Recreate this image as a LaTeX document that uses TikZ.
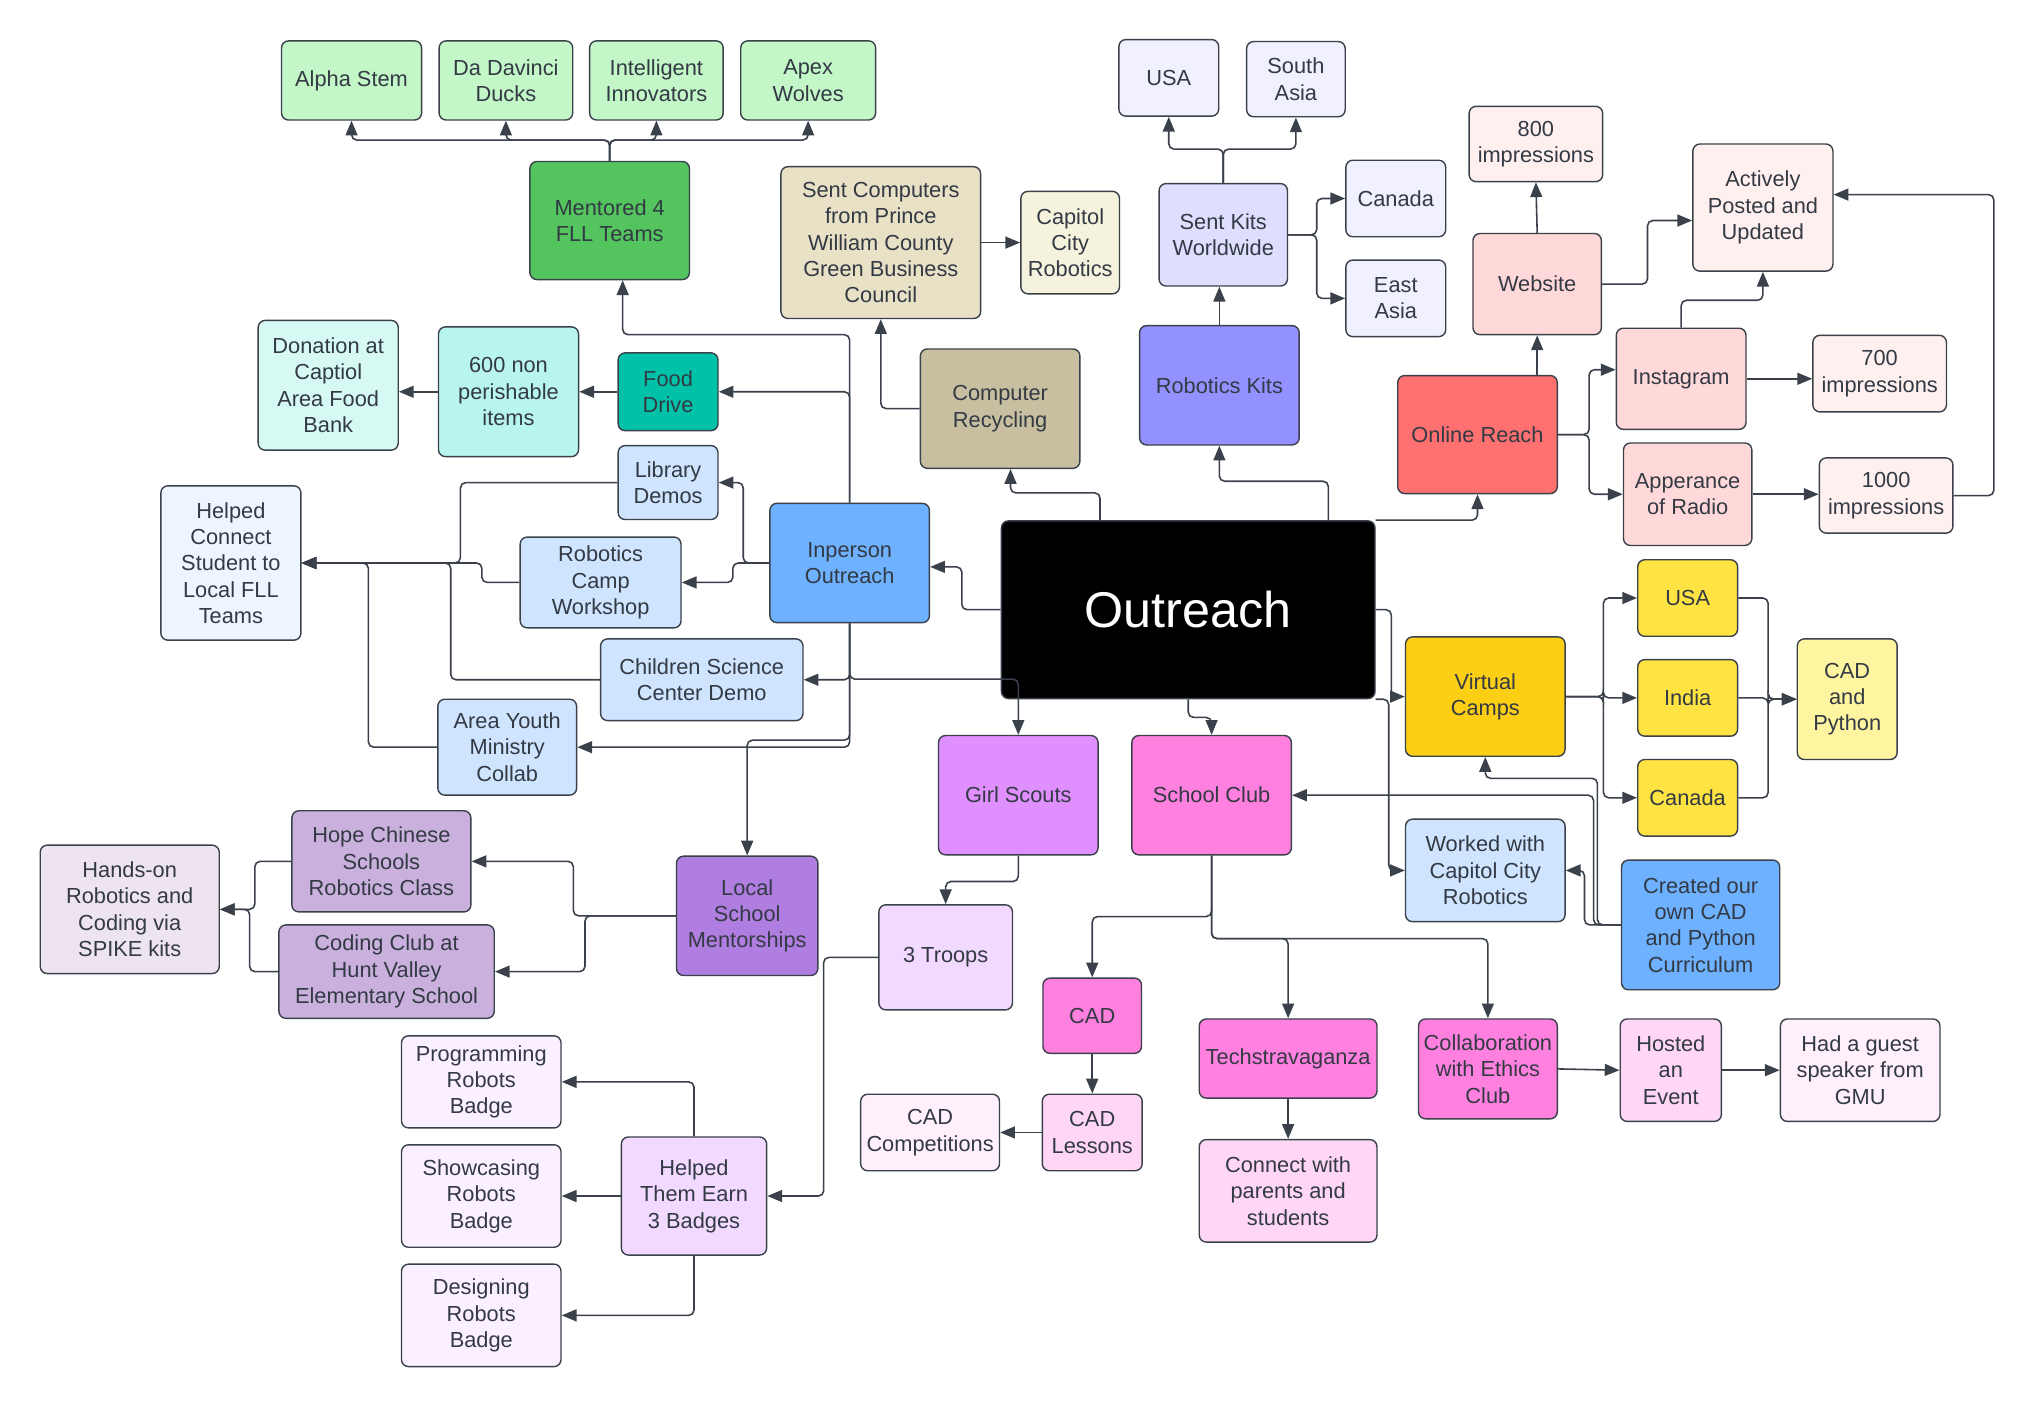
\documentclass[tikz,border=0pt]{standalone}
\usepackage{fontspec}
\setmainfont{Liberation Sans}
\usepackage{tikz}
\usetikzlibrary{arrows.meta, calc}

\definecolor{edge}{HTML}{3A414A}
\definecolor{ink}{HTML}{333A44}
\definecolor{grnL}{HTML}{C3F7C8}
\definecolor{grnD}{HTML}{54C45E}
\definecolor{tanXL}{HTML}{F5F2DE}
\definecolor{tanL}{HTML}{E8E1C6}
\definecolor{tanD}{HTML}{C7BFA0}
\definecolor{lavXL}{HTML}{F0F0FF}
\definecolor{lavL}{HTML}{DEDEFF}
\definecolor{lavD}{HTML}{9391FF}
\definecolor{redXL}{HTML}{FFF0F0}
\definecolor{redL}{HTML}{FFD9D9}
\definecolor{redD}{HTML}{FF7070}
\definecolor{tealL}{HTML}{D6F9F3}
\definecolor{tealM}{HTML}{B8F5ED}
\definecolor{tealD}{HTML}{00C2A8}
\definecolor{bluXL}{HTML}{EDF5FF}
\definecolor{bluL}{HTML}{CFE4FF}
\definecolor{bluD}{HTML}{6DB1FF}
\definecolor{yelL}{HTML}{FFF5A1}
\definecolor{yelM}{HTML}{FFE342}
\definecolor{yelD}{HTML}{FCCE14}
\definecolor{purXL}{HTML}{FBF0FF}
\definecolor{purL}{HTML}{F2D9FF}
\definecolor{purD}{HTML}{E08FFF}
\definecolor{vioL}{HTML}{EDE4F0}
\definecolor{vioM}{HTML}{CAB1DD}
\definecolor{vioD}{HTML}{B07DE0}
\definecolor{pnkXL}{HTML}{FFF0FB}
\definecolor{pnkL}{HTML}{FFD6F5}
\definecolor{pnkD}{HTML}{FF80DF}

\begin{document}
\begin{tikzpicture}[
  x=0.012972cm, y=-0.012972cm,
  box/.style={draw=edge, line width=0.4pt, rounded corners=2pt,
              font=\fontsize{6.2}{7.5}\selectfont, text=ink,
              align=center, inner sep=1pt},
  sz/.style 2 args={minimum width=#1*0.012972cm, minimum height=#2*0.012972cm},
  arr/.style={-{Triangle[length=4.2pt,width=3.4pt]}, draw=edge,
              line width=0.45pt, rounded corners=1.5pt},
]
\useasboundingbox (0,0) rectangle (1568,1086);

% FLL mentoring
\node[box, sz={108}{61}, fill=grnL] (alpha)  at (271,62) {Alpha Stem};
\node[box, sz={103}{61}, fill=grnL] (ducks)  at (390,62) {Da Davinci\\Ducks};
\node[box, sz={103}{61}, fill=grnL] (innov)  at (506,62) {Intelligent\\Innovators};
\node[box, sz={104}{61}, fill=grnL] (wolves) at (623,62) {Apex\\Wolves};
\node[box, sz={123}{91}, fill=grnD] (mentored) at (470,170) {Mentored 4\\FLL Teams};

% computers
\node[box, sz={154}{117}, fill=tanL] (sentcomp) at (679,187)
  {Sent Computers\\from Prince\\William County\\Green Business\\Council};
\node[box, sz={76}{79}, fill=tanXL] (capcity) at (825,187) {Capitol\\City\\Robotics};
\node[box, sz={123}{92}, fill=tanD] (recycle) at (771,315) {Computer\\Recycling};

% kits
\node[box, sz={77}{59}, fill=lavXL] (kusa)  at (901,60) {USA};
\node[box, sz={76}{58}, fill=lavXL] (sasia) at (999,61) {South\\Asia};
\node[box, sz={99}{79}, fill=lavL] (sentkits) at (943,181) {Sent Kits\\Worldwide};
\node[box, sz={77}{59}, fill=lavXL] (kcanada) at (1076,153) {Canada};
\node[box, sz={77}{59}, fill=lavXL] (easia)   at (1076,230) {East\\Asia};
\node[box, sz={123}{92}, fill=lavD] (robkits) at (940,297) {Robotics Kits};

% online
\node[box, sz={103}{58}, fill=redXL] (imp800)  at (1184,111) {800\\impressions};
\node[box, sz={99}{78}, fill=redL]   (website) at (1185,219) {Website};
\node[box, sz={108}{98}, fill=redXL] (posted)  at (1359,160) {Actively\\Posted and\\Updated};
\node[box, sz={123}{91}, fill=redD]  (online)  at (1139,335) {Online Reach};
\node[box, sz={100}{78}, fill=redL]  (insta)   at (1296,292) {Instagram};
\node[box, sz={103}{59}, fill=redXL] (imp700)  at (1449,288) {700\\impressions};
\node[box, sz={99}{79}, fill=redL]   (radio)   at (1301,381) {Apperance\\of Radio};
\node[box, sz={103}{58}, fill=redXL] (imp1000) at (1454,382) {1000\\impressions};

% food
\node[box, sz={77}{60}, fill=tealD]   (food)     at (515,302) {Food\\Drive};
\node[box, sz={108}{100}, fill=tealM] (nonper)   at (392,302) {600 non\\perishable\\items};
\node[box, sz={108}{100}, fill=tealL] (donation) at (253,297) {Donation at\\Captiol\\Area Food\\Bank};

% in person
\node[box, sz={77}{57}, fill=bluL]  (library)  at (515,372) {Library\\Demos};
\node[box, sz={123}{92}, fill=bluD] (inperson) at (655,434) {Inperson\\Outreach};
\node[box, sz={108}{119}, fill=bluXL] (connectfll) at (178,434)
  {Helped\\Connect\\Student to\\Local FLL\\Teams};
\node[box, sz={124}{70}, fill=bluL]  (camp)    at (463,449) {Robotics\\Camp\\Workshop};
\node[box, sz={156}{63}, fill=bluL]  (science) at (541,524) {Children Science\\Center Demo};
\node[box, sz={107}{74}, fill=bluL]  (youth)   at (391,576) {Area Youth\\Ministry\\Collab};

\node[box, sz={288}{137}, fill=black, text=white,
      font=\fontsize{14.3}{17}\selectfont] (outreach) at (916,470) {Outreach};

% virtual camps
\node[box, sz={123}{92}, fill=yelD] (virtual) at (1145,537) {Virtual\\Camps};
\node[box, sz={77}{59}, fill=yelM]  (vusa)    at (1301,461) {USA};
\node[box, sz={77}{59}, fill=yelM]  (vindia)  at (1301,538) {India};
\node[box, sz={77}{59}, fill=yelM]  (vcanada) at (1301,615) {Canada};
\node[box, sz={77}{93}, fill=yelL]  (cadpy)   at (1424,539) {CAD\\and\\Python};
\node[box, sz={123}{79}, fill=bluL] (worked)  at (1145,671) {Worked with\\Capitol City\\Robotics};
\node[box, sz={122}{100}, fill=bluD] (curric) at (1311,713)
  {Created our\\own CAD\\and Python\\Curriculum};

% local schools
\node[box, sz={138}{78}, fill=vioM] (hope)    at (294,664) {Hope Chinese\\Schools\\Robotics Class};
\node[box, sz={138}{99}, fill=vioL] (handson) at (100,701) {Hands-on\\Robotics and\\Coding via\\SPIKE kits};
\node[box, sz={166}{72}, fill=vioM] (coding)  at (298,749) {Coding Club at\\Hunt Valley\\Elementary School};
\node[box, sz={109}{92}, fill=vioD] (localsch) at (576,706) {Local\\School\\Mentorships};

% girl scouts
\node[box, sz={123}{92}, fill=purD] (scouts) at (785,613) {Girl Scouts};
\node[box, sz={103}{81}, fill=purL] (troops) at (729,738) {3 Troops};
\node[box, sz={112}{91}, fill=purL] (badges) at (535,922) {Helped\\Them Earn\\3 Badges};
\node[box, sz={123}{71}, fill=purXL] (progbadge)   at (371,834) {Programming\\Robots\\Badge};
\node[box, sz={123}{79}, fill=purXL] (showbadge)   at (371,922) {Showcasing\\Robots\\Badge};
\node[box, sz={123}{79}, fill=purXL] (designbadge) at (371,1014) {Designing\\Robots\\Badge};

% school club
\node[box, sz={123}{92}, fill=pnkD] (club)    at (934,613) {School Club};
\node[box, sz={76}{58}, fill=pnkD]  (cad)     at (842,783) {CAD};
\node[box, sz={77}{59}, fill=pnkL]  (cadles)  at (842,873) {CAD\\Lessons};
\node[box, sz={107}{59}, fill=pnkXL] (cadcomp) at (717,873) {CAD\\Competitions};
\node[box, sz={137}{61}, fill=pnkD] (techs)   at (993,816) {Techstravaganza};
\node[box, sz={137}{79}, fill=pnkL] (parents) at (993,918) {Connect with\\parents and\\students};
\node[box, sz={107}{77}, fill=pnkD] (ethics)  at (1147,824) {Collaboration\\with Ethics\\Club};
\node[box, sz={78}{79}, fill=pnkL]  (hosted)  at (1288,825) {Hosted\\an\\Event};
\node[box, sz={123}{79}, fill=pnkXL] (gmu)    at (1434,825) {Had a guest\\speaker from\\GMU};

% connectors
\foreach \t in {alpha,ducks,innov,wolves}
  \draw[arr] (mentored.north) -- ++(0,-16) -| (\t.south);
\draw[arr] (inperson.north) |- (480,258) -- ([xshift=0.13cm]mentored.south);
\draw[arr] (inperson.north) |- (food.east);
\draw[arr] (food.west) -- (nonper.east);
\draw[arr] (nonper.west) -- (nonper.west -| donation.east);
\draw[arr] (recycle.west) -| (sentcomp.south);
\draw[arr] (sentcomp.east) -- (capcity.west);
\draw[arr] ($(outreach.north)+(-68,0)$) -- ++(0,-21) -| ($(recycle.south)+(8,0)$);
\draw[arr] ($(outreach.north)+(108,0)$) -- ++(0,-30) -| (robkits.south);
\draw[arr] (robkits.north) -- (robkits.north |- sentkits.south);
\draw[arr] (sentkits.north) -- ++(0,-26) -| (kusa.south);
\draw[arr] (sentkits.north) -- ++(0,-26) -| (sasia.south);
\draw[arr] (sentkits.east) -- ++(22,0) |- (kcanada.west);
\draw[arr] (sentkits.east) -- ++(22,0) |- (easia.west);

\draw[arr] (outreach.north east) -| (online.south);
\draw[arr] (website.south |- online.north) -- (website.south);
\draw[arr] (website.north) -- (imp800.south);
\draw[arr] (website.east) -- ++(35,0) |- ($(posted.west)+(0,10)$);
\draw[arr] (online.east) -- ++(24,0) |- ($(insta.west)+(0,-7)$);
\draw[arr] (online.east) -- ++(24,0) |- (radio.west);
\draw[arr] (insta.north) -- ++(0,-21) -| (posted.south);
\draw[arr] (insta.east) -- (insta.east -| imp700.west);
\draw[arr] (radio.east) -- (radio.east -| imp1000.west);
\draw[arr] (imp1000.east) -- ++(31,0) |- ($(posted.east)+(0,-10)$);

\draw[arr] (outreach.west) -- ++(-30,0) |- ($(inperson.east)+(0,3)$);
\draw[arr] (inperson.west) -- ++(-20,0) |- (library.east);
\draw[arr] (inperson.west) -- ++(-28,0) |- (camp.east);
\draw[arr] (library.west) -- ++(-121,0) |- (connectfll.east);
\draw[arr] (camp.west) -- ++(-29,0) |- (connectfll.east);
\draw[arr] (science.west) -- ++(-115,0) |- (connectfll.east);
\draw[arr] (youth.west) -- ++(-53,0) |- (connectfll.east);
\draw[arr] (inperson.south) |- (science.east);
\draw[arr] (inperson.south) |- (youth.east);
\draw[arr] (inperson.south) -- ++(0,43) -| (scouts.north);
\draw[arr] (inperson.south) -- ++(0,90) -| (localsch.north);

\draw[arr] (outreach.south) -- ++(0,14) -| (club.north);
\draw[arr] (outreach.east) -- ++(12,0) |- (virtual.west);
\draw[arr] (outreach.south east) -- ++(10,0) |- (worked.west);
\foreach \t in {vusa,vindia,vcanada} {
  \draw[arr] (virtual.east) -- ++(29,0) |- (\t.west);
  \draw[arr] (\t.east) -- ++(23,0) |- (cadpy.west);
}
\draw[arr] (curric.west) -- ++(-18,0) -- ++(0,-113) -| (virtual.south);
\draw[arr] (curric.west) -- ++(-21,0) |- (club.east);
\draw[arr] (curric.west) -- ++(-28,0) |- (worked.east);

\draw[arr] (scouts.south) -- ++(0,20) -| (troops.north);
\draw[arr] (troops.west) -- ++(-42,0) |- (badges.east);
\draw[arr] (badges.north) |- (progbadge.east);
\draw[arr] (badges.west) -- (showbadge.east);
\draw[arr] (badges.south) |- (designbadge.east);
\draw[arr] (localsch.west) -- ++(-79,0) |- (hope.east);
\draw[arr] (localsch.west) -- ++(-70,0) |- (coding.east);
\draw[arr] (hope.west) -- ++(-28,0) |- (handson.east);
\draw[arr] (coding.west) -- ++(-22,0) |- (handson.east);

\draw[arr] (club.south) -- ++(0,47) -| (cad.north);
\draw[arr] (club.south) -- ++(0,64) -| (techs.north);
\draw[arr] (club.south) -- ++(0,64) -| (ethics.north);
\draw[arr] (cad.south) -- (cadles.north);
\draw[arr] (cadles.west) -- (cadcomp.east);
\draw[arr] (techs.south) -- (parents.north);
\draw[arr] (ethics.east) -- (hosted.west);
\draw[arr] (hosted.east) -- (gmu.west);
\end{tikzpicture}
\end{document}
